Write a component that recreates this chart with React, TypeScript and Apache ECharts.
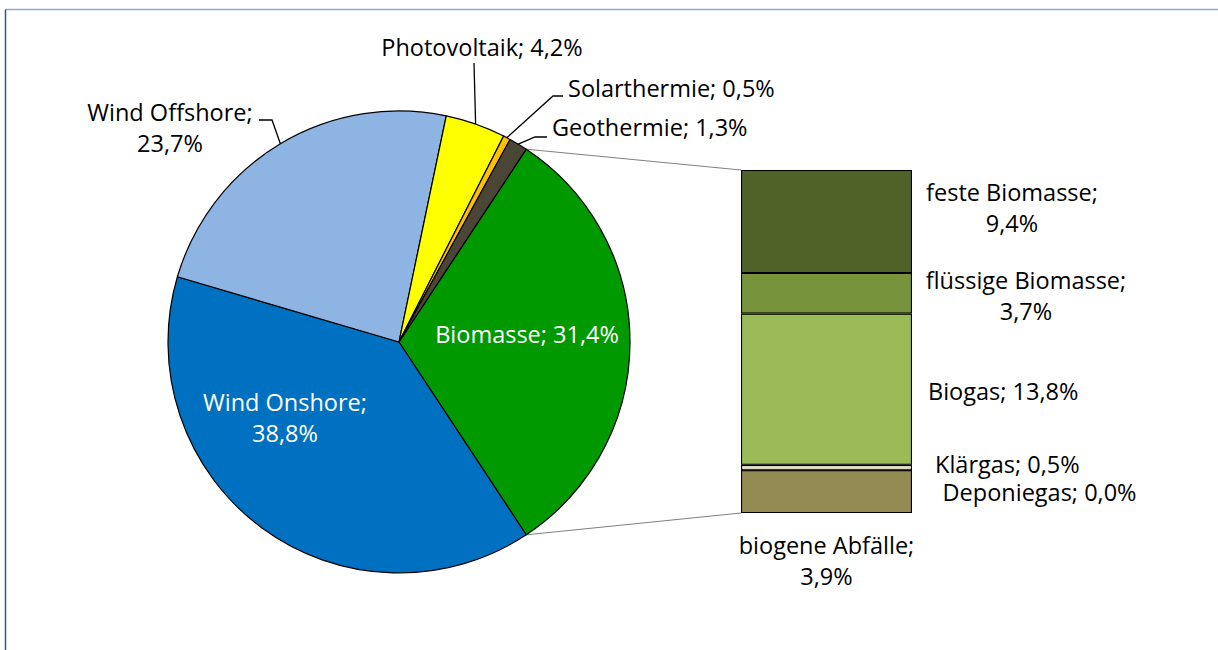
import React, { useEffect, useRef } from "react";
import * as echarts from "echarts";

// ---- data ----
const pieNames = ["Biomasse", "Wind Onshore", "Wind Offshore", "Photovoltaik", "Solarthermie", "Geothermie"];
const pieValues = [31.4, 38.8, 23.7, 4.2, 0.5, 1.3];
const pieColors = ["#009900", "#0070C0", "#8EB4E3", "#FFFF00", "#FFC000", "#4A4535"];

// stacked bar, bottom to top
const barNames = ["biogene Abfälle", "Deponiegas", "Klärgas", "Biogas", "flüssige Biomasse", "feste Biomasse"];
const barValues = [3.9, 0.0, 0.5, 13.8, 3.7, 9.4];
const barColors = ["#948A54", "#C4BD97", "#DDD9C3", "#9BBB59", "#77933C", "#4F6228"];

// ---- layout (styling only) ----
const FONT = "'Open Sans', Lato, sans-serif";
const FS = 23.5;
const CX = 399;
const CY = 342;
const R = 231;
const BAR = { left: 741, top: 170, width: 171, height: 343 };

const pieLabelLayout: Record<string, { x: number; y: number; align: string; color: string; twoLine: boolean }> = {
  "Biomasse": { x: 527, y: 334, align: "center", color: "#ffffff", twoLine: false },
  "Wind Onshore": { x: 285, y: 417, align: "center", color: "#ffffff", twoLine: true },
  "Wind Offshore": { x: 170, y: 127, align: "center", color: "#000000", twoLine: true },
  "Photovoltaik": { x: 482, y: 47, align: "center", color: "#000000", twoLine: false },
  "Solarthermie": { x: 568, y: 88, align: "left", color: "#000000", twoLine: false },
  "Geothermie": { x: 552, y: 127, align: "left", color: "#000000", twoLine: false },
};

// leader lines: elbow and end points
const leaders: Record<string, number[][]> = {
  "Wind Offshore": [[272, 120], [259, 120]],
  "Photovoltaik": [[474, 63]],
  "Solarthermie": [[553, 96], [563, 96]],
  "Geothermie": [[535, 137], [547, 137]],
};

const barLabelCfg: Record<string, any> = {
  "feste Biomasse": { position: "right", align: "center", vAlign: "middle", offset: [100, -14] },
  "flüssige Biomasse": { position: "right", align: "center", vAlign: "middle", offset: [114, 2] },
  "Biogas": { position: "right", align: "left", vAlign: "middle", offset: [16, 2] },
  "Klärgas": { position: "right", align: "left", vAlign: "middle", offset: [23, -4] },
  "Deponiegas": { position: "right", align: "left", vAlign: "middle", offset: [30, 22] },
  "biogene Abfälle": { position: "bottom", align: "center", vAlign: "top", distance: 16 },
};

const twoLineBar = new Set(["feste Biomasse", "flüssige Biomasse", "biogene Abfälle"]);

const fmt = (v: number) => v.toFixed(1).replace(".", ",") + "%";

export default function App() {
  const ref = useRef<HTMLDivElement>(null);
  useEffect(() => {
    document.body.style.margin = "0";
    if (!ref.current) return;
    const chart = echarts.init(ref.current, undefined, { renderer: "svg" });

    const total = pieValues.reduce((a, b) => a + b, 0);
    const startAngle = (pieValues[0] / total) * 360 / 2;
    const angleAt = (cum: number) => ((startAngle - (cum / total) * 360) * Math.PI) / 180;
    const pt = (a: number, r: number) => [CX + r * Math.cos(a), CY - r * Math.sin(a)];

    const cums: number[] = [];
    let acc = 0;
    pieValues.forEach((v) => {
      cums.push(acc);
      acc += v;
    });

    const graphics: any[] = [
      { type: "line", shape: { x1: 5.5, y1: 9.5, x2: 1218, y2: 9.5 }, style: { stroke: "#8FA8C8", lineWidth: 1.5 }, silent: true },
      { type: "line", shape: { x1: 5.5, y1: 9.5, x2: 5.5, y2: 650 }, style: { stroke: "#35588C", lineWidth: 1.5 }, silent: true },
    ];

    pieNames.forEach((n, i) => {
      const pts = leaders[n];
      if (!pts) return;
      const mid = angleAt(cums[i] + pieValues[i] / 2);
      const p0 = pt(mid, R);
      graphics.push({
        type: "polyline",
        shape: { points: [p0, ...pts] },
        style: { stroke: "#000", lineWidth: 1.3, fill: null },
        silent: true,
        z: 10,
      });
    });

    const pStart = pt(angleAt(0), R);
    const pEnd = pt(angleAt(pieValues[0]), R);
    graphics.push(
      { type: "line", shape: { x1: pStart[0], y1: pStart[1], x2: BAR.left, y2: BAR.top }, style: { stroke: "#808080", lineWidth: 1 }, silent: true },
      { type: "line", shape: { x1: pEnd[0], y1: pEnd[1], x2: BAR.left, y2: BAR.top + BAR.height }, style: { stroke: "#808080", lineWidth: 1 }, silent: true }
    );

    const barTotal = barValues.reduce((a, b) => a + b, 0);

    const option: any = {
      animation: false,
      textStyle: { fontFamily: FONT, fontSize: FS },
      graphic: graphics,
      grid: { left: BAR.left, top: BAR.top, width: BAR.width, height: BAR.height, containLabel: false },
      xAxis: { type: "category", data: ["Biomasse"], show: false },
      yAxis: { type: "value", min: 0, max: barTotal, show: false },
      series: [
        {
          type: "pie",
          center: [CX, CY],
          radius: R,
          startAngle,
          clockwise: true,
          avoidLabelOverlap: false,
          itemStyle: { borderColor: "#000", borderWidth: 1.2 },
          label: {
            show: true,
            fontFamily: FONT,
            fontSize: FS,
            lineHeight: 31,
            formatter: (p: any) => {
              const cfg = pieLabelLayout[p.name];
              return p.name + ";" + (cfg && cfg.twoLine ? "\n" : " ") + fmt(p.value);
            },
          },
          labelLine: { show: false },
          labelLayout: (p: any) => {
            const name = pieNames[p.dataIndex];
            const cfg = pieLabelLayout[name];
            return { x: cfg.x, y: cfg.y, align: cfg.align, verticalAlign: "middle" };
          },
          data: pieNames.map((n, i) => ({
            name: n,
            value: pieValues[i],
            itemStyle: { color: pieColors[i] },
            label: { color: pieLabelLayout[n].color, fontSize: FS },
          })),
        },
        ...barNames.map((n, i) => {
          const cfg = barLabelCfg[n];
          return {
            type: "bar",
            name: n,
            stack: "bio",
            barWidth: "100%",
            itemStyle: { color: barColors[i], borderColor: "#000", borderWidth: 1.1 },
            label: {
              show: true,
              position: cfg.position,
              distance: cfg.distance ?? 0,
              align: cfg.align,
              verticalAlign: cfg.vAlign,
              offset: cfg.offset ?? [0, 0],
              fontFamily: FONT,
              fontSize: FS,
              lineHeight: 31,
              color: "#000",
              formatter: () => n + ";" + (twoLineBar.has(n) ? "\n" : " ") + fmt(barValues[i]),
            },
            data: [barValues[i]],
          };
        }),
      ],
    };
    chart.setOption(option);
    return () => chart.dispose();
  }, []);
  return <div ref={ref} style={{ width: 1218, height: 650 }} />;
}
